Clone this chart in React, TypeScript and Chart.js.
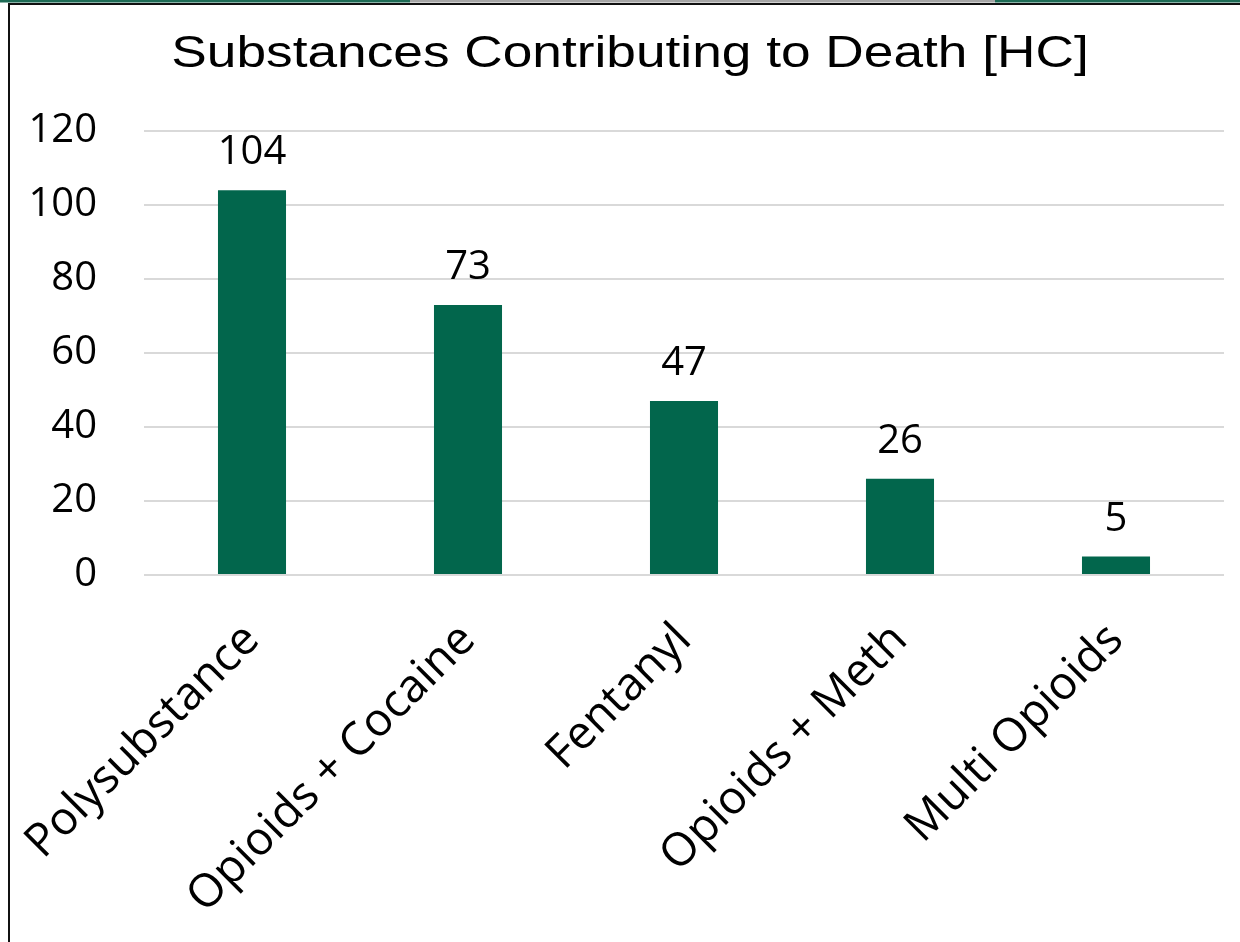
import React, { useEffect, useRef } from 'react';
import { Chart, registerables } from 'chart.js';

Chart.register(...registerables);

const categories = ['Polysubstance', 'Opioids + Cocaine', 'Fentanyl', 'Opioids + Meth', 'Multi Opioids'];
const deaths = [104, 73, 47, 26, 5];
const yMin = 0;
const yMax = 120;
const yStep = 20;
const chartTitle = 'Substances Contributing to Death [HC]';

const BAR_COLOR = '#02664C';
const GRID_COLOR = '#d9d9d9';
const LABEL_FONT = '"Open Sans", "Noto Sans", sans-serif';
const TITLE_FONT = '"Liberation Sans", Arial, sans-serif';

const framePlugin = {
  id: 'frame',
  beforeDraw(chart: any) {
    const { ctx, width, height } = chart;
    ctx.save();
    ctx.fillStyle = '#ffffff';
    ctx.fillRect(0, 0, width, height);
    // top strip
    ctx.fillStyle = '#1d6b55';
    ctx.fillRect(0, 0, 410, 2.5);
    ctx.fillStyle = '#a6a6a6';
    ctx.fillRect(410, 0, 585, 2.5);
    ctx.fillStyle = '#1d6b55';
    ctx.fillRect(995, 0, width - 995, 2.5);
    // black frame lines
    ctx.fillStyle = '#111111';
    ctx.fillRect(8, 3, width - 8, 2);
    ctx.fillRect(8, 3, 2, height - 3);
    ctx.restore();
  },
};

// Title drawn slightly widened, as in the reference
const titlePlugin = {
  id: 'wideTitle',
  afterDraw(chart: any) {
    const { ctx, chartArea } = chart;
    ctx.save();
    ctx.font = `44px ${TITLE_FONT}`;
    ctx.fillStyle = '#000000';
    ctx.textAlign = 'center';
    ctx.textBaseline = 'alphabetic';
    const cx = (chartArea.left + chartArea.right) / 2 - 54;
    ctx.translate(cx, chartArea.top - 64);
    ctx.scale(1.21, 1);
    ctx.fillText(chartTitle, 0, 0);
    ctx.restore();
  },
};

const valueLabelPlugin = {
  id: 'valueLabels',
  afterDatasetsDraw(chart: any) {
    const { ctx } = chart;
    const meta = chart.getDatasetMeta(0);
    const data = chart.data.datasets[0].data as number[];
    ctx.save();
    ctx.font = `40px ${LABEL_FONT}`;
    ctx.fillStyle = '#000000';
    ctx.textAlign = 'center';
    ctx.textBaseline = 'alphabetic';
    meta.data.forEach((bar: any, i: number) => {
      ctx.fillText(String(data[i]), bar.x, bar.y - 26);
    });
    ctx.restore();
  },
};

export default function App() {
  const canvasRef = useRef<HTMLCanvasElement | null>(null);

  useEffect(() => {
    document.body.style.margin = '0';
    const canvas = canvasRef.current;
    if (!canvas) return;
    const chart = new Chart(canvas, {
      type: 'bar',
      data: {
        labels: categories,
        datasets: [
          {
            data: deaths,
            backgroundColor: BAR_COLOR,
            borderWidth: 0,
            barPercentage: 0.315,
            categoryPercentage: 1,
          },
        ],
      },
      options: {
        responsive: false,
        animation: false,
        devicePixelRatio: 1,
        layout: { padding: { left: 0, right: 16, top: 131, bottom: 0 } },
        plugins: {
          legend: { display: false },
          tooltip: { enabled: false },
          title: { display: false },
        },
        scales: {
          x: {
            grid: { display: false, drawTicks: false },
            border: { display: false },
            ticks: {
              color: '#000000',
              font: { family: LABEL_FONT, size: 46 },
              maxRotation: 45,
              minRotation: 45,
              padding: 38,
              autoSkip: false,
            },
            afterFit(scale: any) {
              scale.height = 367;
              scale.paddingLeft = 0;
              scale.paddingRight = 0;
            },
          },
          y: {
            min: yMin,
            max: yMax,
            grid: { color: GRID_COLOR, lineWidth: 2, drawTicks: false },
            border: { display: false },
            ticks: {
              stepSize: yStep,
              color: '#000000',
              font: { family: LABEL_FONT, size: 40 },
              padding: 47,
            },
            afterFit(scale: any) {
              scale.width = 144;
            },
          },
        },
      },
      plugins: [framePlugin, valueLabelPlugin, titlePlugin],
    });
    return () => chart.destroy();
  }, []);

  return <canvas ref={canvasRef} width={1240} height={942} style={{ display: 'block' }} />;
}
